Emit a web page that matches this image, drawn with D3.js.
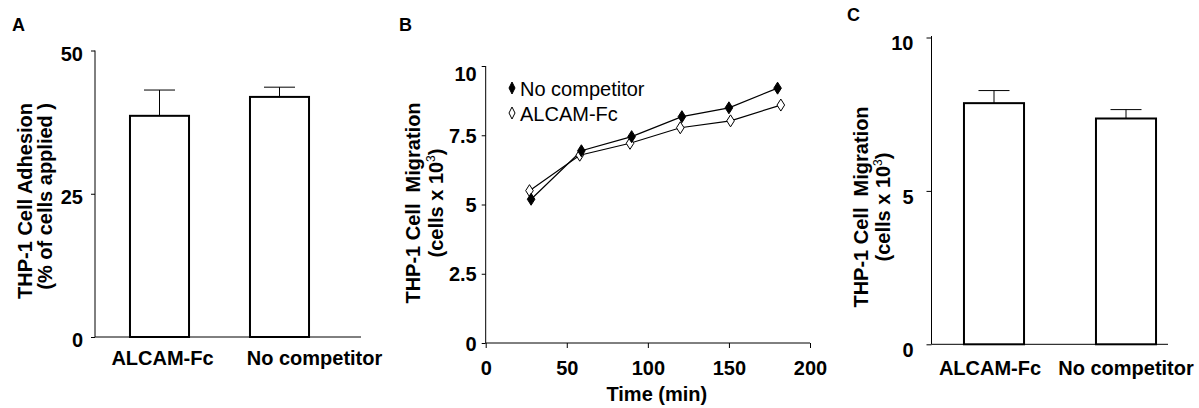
<!DOCTYPE html>
<html>
<head>
<meta charset="utf-8">
<script src="https://cdn.jsdelivr.net/npm/d3@7"></script>
<style>
  html, body { margin: 0; padding: 0; background: #fff; }
  svg { display: block; font-family: "Liberation Sans", Arial, Helvetica, sans-serif; }
  text { white-space: pre; }
</style>
</head>
<body>
<svg id="chart" width="1199" height="408"></svg>
<script>
// ---------- data ----------
const categoriesA = ["ALCAM-Fc", "No competitor"];
const adhesionMean = [38.6, 41.9];
const adhesionErr = [4.5, 1.7];
const ticksA = [0, 25, 50];

const timeNoComp = [28, 59, 90, 121, 150, 180];
const migNoComp = [5.19, 6.94, 7.45, 8.17, 8.49, 9.2];
const timeAlcam = [27, 58, 89, 120, 151, 182];
const migAlcam = [5.5, 6.78, 7.21, 7.77, 8.02, 8.59];
const ticksBx = [0, 50, 100, 150, 200];
const ticksBy = [0, 2.5, 5, 7.5, 10];
const legendB = ["No competitor", "ALCAM-Fc"];

const categoriesC = ["ALCAM-Fc", "No competitor"];
const migMeanC = [7.86, 7.36];
const migErrC = [0.41, 0.29];
const ticksC = [0, 5, 10];

// ---------- helpers ----------
const svg = d3.select("#chart");
function diamond(w, h) { return `M0,${-h}L${w},0L0,${h}L${-w},0Z`; }
function styleAxis(g, fs, dy) {
  g.select(".domain").remove();
  g.selectAll(".tick line").attr("stroke", "#000").attr("stroke-width", 1);
  g.selectAll(".tick text").attr("fill", "#000").attr("font-size", fs).attr("font-weight", "bold")
    .attr("font-family", "Liberation Sans, Arial, sans-serif");
  if (dy) g.selectAll(".tick text").attr("dy", dy);
}
function line(x1, y1, x2, y2, w) {
  svg.append("line").attr("x1", x1).attr("y1", y1).attr("x2", x2).attr("y2", y2)
    .attr("stroke", "#000").attr("stroke-width", w || 1);
}
function panelLetter(t, x, y) {
  svg.append("text").attr("x", x).attr("y", y).attr("font-size", 18).attr("font-weight", "bold").text(t);
}
function yTitle(lines, x1, x2, yPos, anchor, sup) {
  lines.forEach((ln, i) => {
    const t = svg.append("text")
      .attr("transform", `translate(${i === 0 ? x1 : x2},${yPos}) rotate(-90)`)
      .attr("text-anchor", anchor).attr("font-size", 20).attr("font-weight", "bold");
    if (sup && i === 1) {
      t.append("tspan").text("(cells x 10");
      t.append("tspan").attr("dy", -8).attr("font-size", 12).attr("font-weight", "normal").text("3");
      t.append("tspan").attr("dy", 8).text(")");
    } else {
      t.text(ln);
    }
  });
}

// ---------- Panel A ----------
{
  const x0 = 95, x1 = 361, yTop = 50.5, yBot = 337;
  const y = d3.scaleLinear().domain([0, 50]).range([yBot, yTop]);
  const x = d3.scaleBand().domain(categoriesA).range([99.5, 339.5]).paddingInner(0.508).paddingOuter(0.254);
  const gy = svg.append("g").attr("transform", `translate(${x0},0)`)
    .call(d3.axisLeft(y).tickValues(ticksA).tickSize(4).tickPadding(8));
  styleAxis(gy, 20, "0.48em");
  line(x0, yTop, x0, yBot);
  line(x0, yBot, x1, yBot);
  categoriesA.forEach((c, i) => {
    const cx = x(c) + x.bandwidth() / 2;
    line(cx, y(adhesionMean[i]), cx, y(adhesionMean[i] + adhesionErr[i]));
    line(cx - 15.5, y(adhesionMean[i] + adhesionErr[i]), cx + 15.5, y(adhesionMean[i] + adhesionErr[i]));
  });
  svg.append("g").selectAll("rect").data(categoriesA).join("rect")
    .attr("x", d => x(d)).attr("width", x.bandwidth())
    .attr("y", (d, i) => y(adhesionMean[i])).attr("height", (d, i) => yBot - y(adhesionMean[i]))
    .attr("fill", "#fff").attr("stroke", "#000").attr("stroke-width", 2);
  const labelShiftA = [3, 35];
  svg.append("g").selectAll("text").data(categoriesA).join("text")
    .attr("x", (d, i) => x(d) + x.bandwidth() / 2 + labelShiftA[i]).attr("y", yBot + 27.5)
    .attr("text-anchor", "middle").attr("font-size", 20).attr("font-weight", "bold").text(d => d);
  yTitle(["THP-1 Cell Adhesion", "(% of cells applied )"], 32, 52, 103, "end", false);
  panelLetter("A", 12, 31);
}

// ---------- Panel B ----------
{
  const xL = 485.7, xR = 810, yTop = 66, yBot = 343;
  const x = d3.scaleLinear().domain([0, 200]).range([xL, xR]);
  const y = d3.scaleLinear().domain([0, 10]).range([yBot, yTop]);
  const gy = svg.append("g").attr("transform", `translate(${xL},0)`)
    .call(d3.axisLeft(y).tickValues(ticksBy).tickFormat(d => String(d)).tickSize(4).tickPadding(5));
  styleAxis(gy, 20, "0.36em");
  gy.selectAll(".tick text").filter(d => d === 10).attr("dy", "0.72em");
  const gx = svg.append("g").attr("transform", `translate(0,${yBot})`)
    .call(d3.axisBottom(x).tickValues(ticksBx).tickSize(5).tickPadding(13));
  styleAxis(gx, 20);
  line(xL, yTop, xL, yBot);
  line(xL, yBot, xR, yBot);

  const lineGen = d3.line().x(d => x(d[0])).y(d => y(d[1]));
  const noComp = timeNoComp.map((t, i) => [t, migNoComp[i]]);
  const alcam = timeAlcam.map((t, i) => [t, migAlcam[i]]);
  svg.append("path").datum(noComp).attr("d", lineGen).attr("fill", "none").attr("stroke", "#000").attr("stroke-width", 1.2);
  svg.append("path").datum(alcam).attr("d", lineGen).attr("fill", "none").attr("stroke", "#000").attr("stroke-width", 1.2);
  svg.append("g").selectAll("path").data(alcam).join("path")
    .attr("transform", d => `translate(${x(d[0])},${y(d[1])})`)
    .attr("d", diamond(3.8, 6)).attr("fill", "#fff").attr("stroke", "#000").attr("stroke-width", 1);
  svg.append("g").selectAll("path").data(noComp).join("path")
    .attr("transform", d => `translate(${x(d[0])},${y(d[1])})`)
    .attr("d", diamond(3.8, 6)).attr("fill", "#000").attr("stroke", "#000").attr("stroke-width", 1);

  const lg = svg.append("g");
  legendB.forEach((name, i) => {
    const ly = 88 + i * 25;
    lg.append("path").attr("transform", `translate(512,${ly})`).attr("d", diamond(3, 6))
      .attr("fill", i === 0 ? "#000" : "#fff").attr("stroke", "#000").attr("stroke-width", 1);
    lg.append("text").attr("x", 520).attr("y", ly + 8).attr("font-size", 20).text(name);
  });

  svg.append("text").attr("x", (xL + xR) / 2 + 9).attr("y", 401).attr("text-anchor", "middle")
    .attr("font-size", 20).attr("font-weight", "bold").text("Time (min)");
  yTitle(["THP-1 Cell  Migration", "(cells x 10"], 420, 443, 203, "middle", true);
  panelLetter("B", 399, 31);
}

// ---------- Panel C ----------
{
  const x0 = 931.5, x1 = 1168, yTop = 37.5, yBot = 344.3;
  const y = d3.scaleLinear().domain([0, 10]).range([yBot, yTop]);
  const x = d3.scaleBand().domain(categoriesC).range([928, 1192]).paddingInner(0.545).paddingOuter(0.2725);
  const gy = svg.append("g").attr("transform", `translate(${x0},0)`)
    .call(d3.axisLeft(y).tickValues(ticksC).tickSize(5).tickPadding(13));
  styleAxis(gy, 20, "0.62em");
  line(x0, 36, x0, yBot);
  line(x0, yBot, x1, yBot);
  categoriesC.forEach((c, i) => {
    const cx = x(c) + x.bandwidth() / 2;
    line(cx, y(migMeanC[i]), cx, y(migMeanC[i] + migErrC[i]));
    line(cx - 15.5, y(migMeanC[i] + migErrC[i]), cx + 15.5, y(migMeanC[i] + migErrC[i]));
  });
  svg.append("g").selectAll("rect").data(categoriesC).join("rect")
    .attr("x", d => x(d)).attr("width", x.bandwidth())
    .attr("y", (d, i) => y(migMeanC[i])).attr("height", (d, i) => yBot - y(migMeanC[i]))
    .attr("fill", "#fff").attr("stroke", "#000").attr("stroke-width", 2);
  const labelShiftC = [-4, 0];
  svg.append("g").selectAll("text").data(categoriesC).join("text")
    .attr("x", (d, i) => x(d) + x.bandwidth() / 2 + labelShiftC[i]).attr("y", yBot + 31)
    .attr("text-anchor", "middle").attr("font-size", 20).attr("font-weight", "bold").text(d => d);
  yTitle(["THP-1 Cell  Migration", "(cells x 10"], 868, 890, 207, "middle", true);
  panelLetter("C", 847, 21);
}
</script>
</body>
</html>
